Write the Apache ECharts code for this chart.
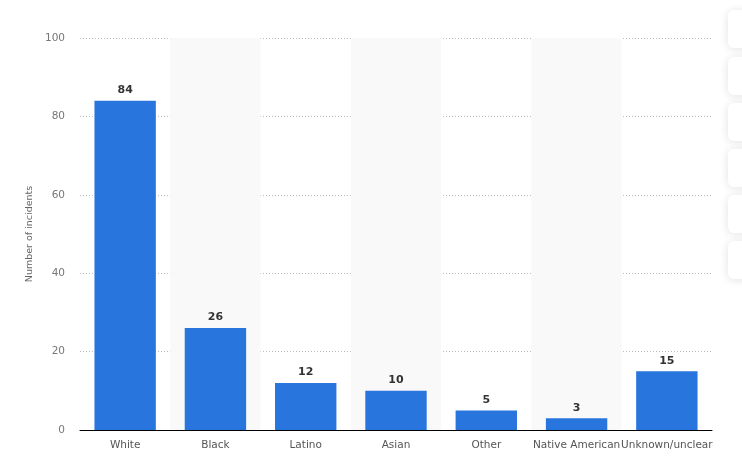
<!DOCTYPE html>
<html><head><meta charset="utf-8">
<script src="https://cdn.jsdelivr.net/npm/echarts@6/dist/echarts.min.js"></script>
<style>html,body{margin:0;padding:0;background:#fff}#c{width:742px;height:463px}</style>
</head><body><div id="c"></div>
<script>
const categories = ['White','Black','Latino','Asian','Other','Native American','Unknown/unclear'];
const values = [84,26,12,10,5,3,15];
const yTicks = [0,20,40,60,80,100];

const chart = echarts.init(document.getElementById('c'), null, {renderer:'canvas'});
const boxes = [10,57,103,149,195,241].map(y => ({
  type:'rect', shape:{x:728,y:y,width:40,height:38,r:6},
  style:{fill:'#fff',shadowBlur:10,shadowColor:'rgba(0,0,0,0.12)',shadowOffsetX:0,shadowOffsetY:1}
}));
chart.setOption({
  animation:false,
  textStyle:{fontFamily:'DejaVu Sans'},
  grid:{left:80,right:30,top:38,bottom:33},
  xAxis:{type:'category',data:categories,
    axisLine:{lineStyle:{color:'#000',width:1}},
    axisTick:{show:false},
    axisLabel:{color:'#555',fontSize:10.5,margin:10,interval:0},
    splitArea:{show:true,areaStyle:{color:['rgba(0,0,0,0)','#f9f9f9']}}
  },
  yAxis:{type:'value',min:yTicks[0],max:yTicks[yTicks.length-1],interval:20,
    name:'Number of incidents',nameLocation:'middle',nameGap:44,
    nameTextStyle:{color:'#666',fontSize:9.5},
    axisLabel:{color:'#777',fontSize:10.5,margin:15},
    splitLine:{lineStyle:{color:'#bbb',type:[1,2]}},
    axisLine:{show:false},axisTick:{show:false}
  },
  series:[{type:'bar',data:values,barWidth:'68%',
    itemStyle:{color:'#2876dd'},
    label:{show:true,position:'top',color:'#333',fontWeight:'bold',fontSize:11,distance:5}
  }],
  graphic:boxes
});
</script></body></html>
